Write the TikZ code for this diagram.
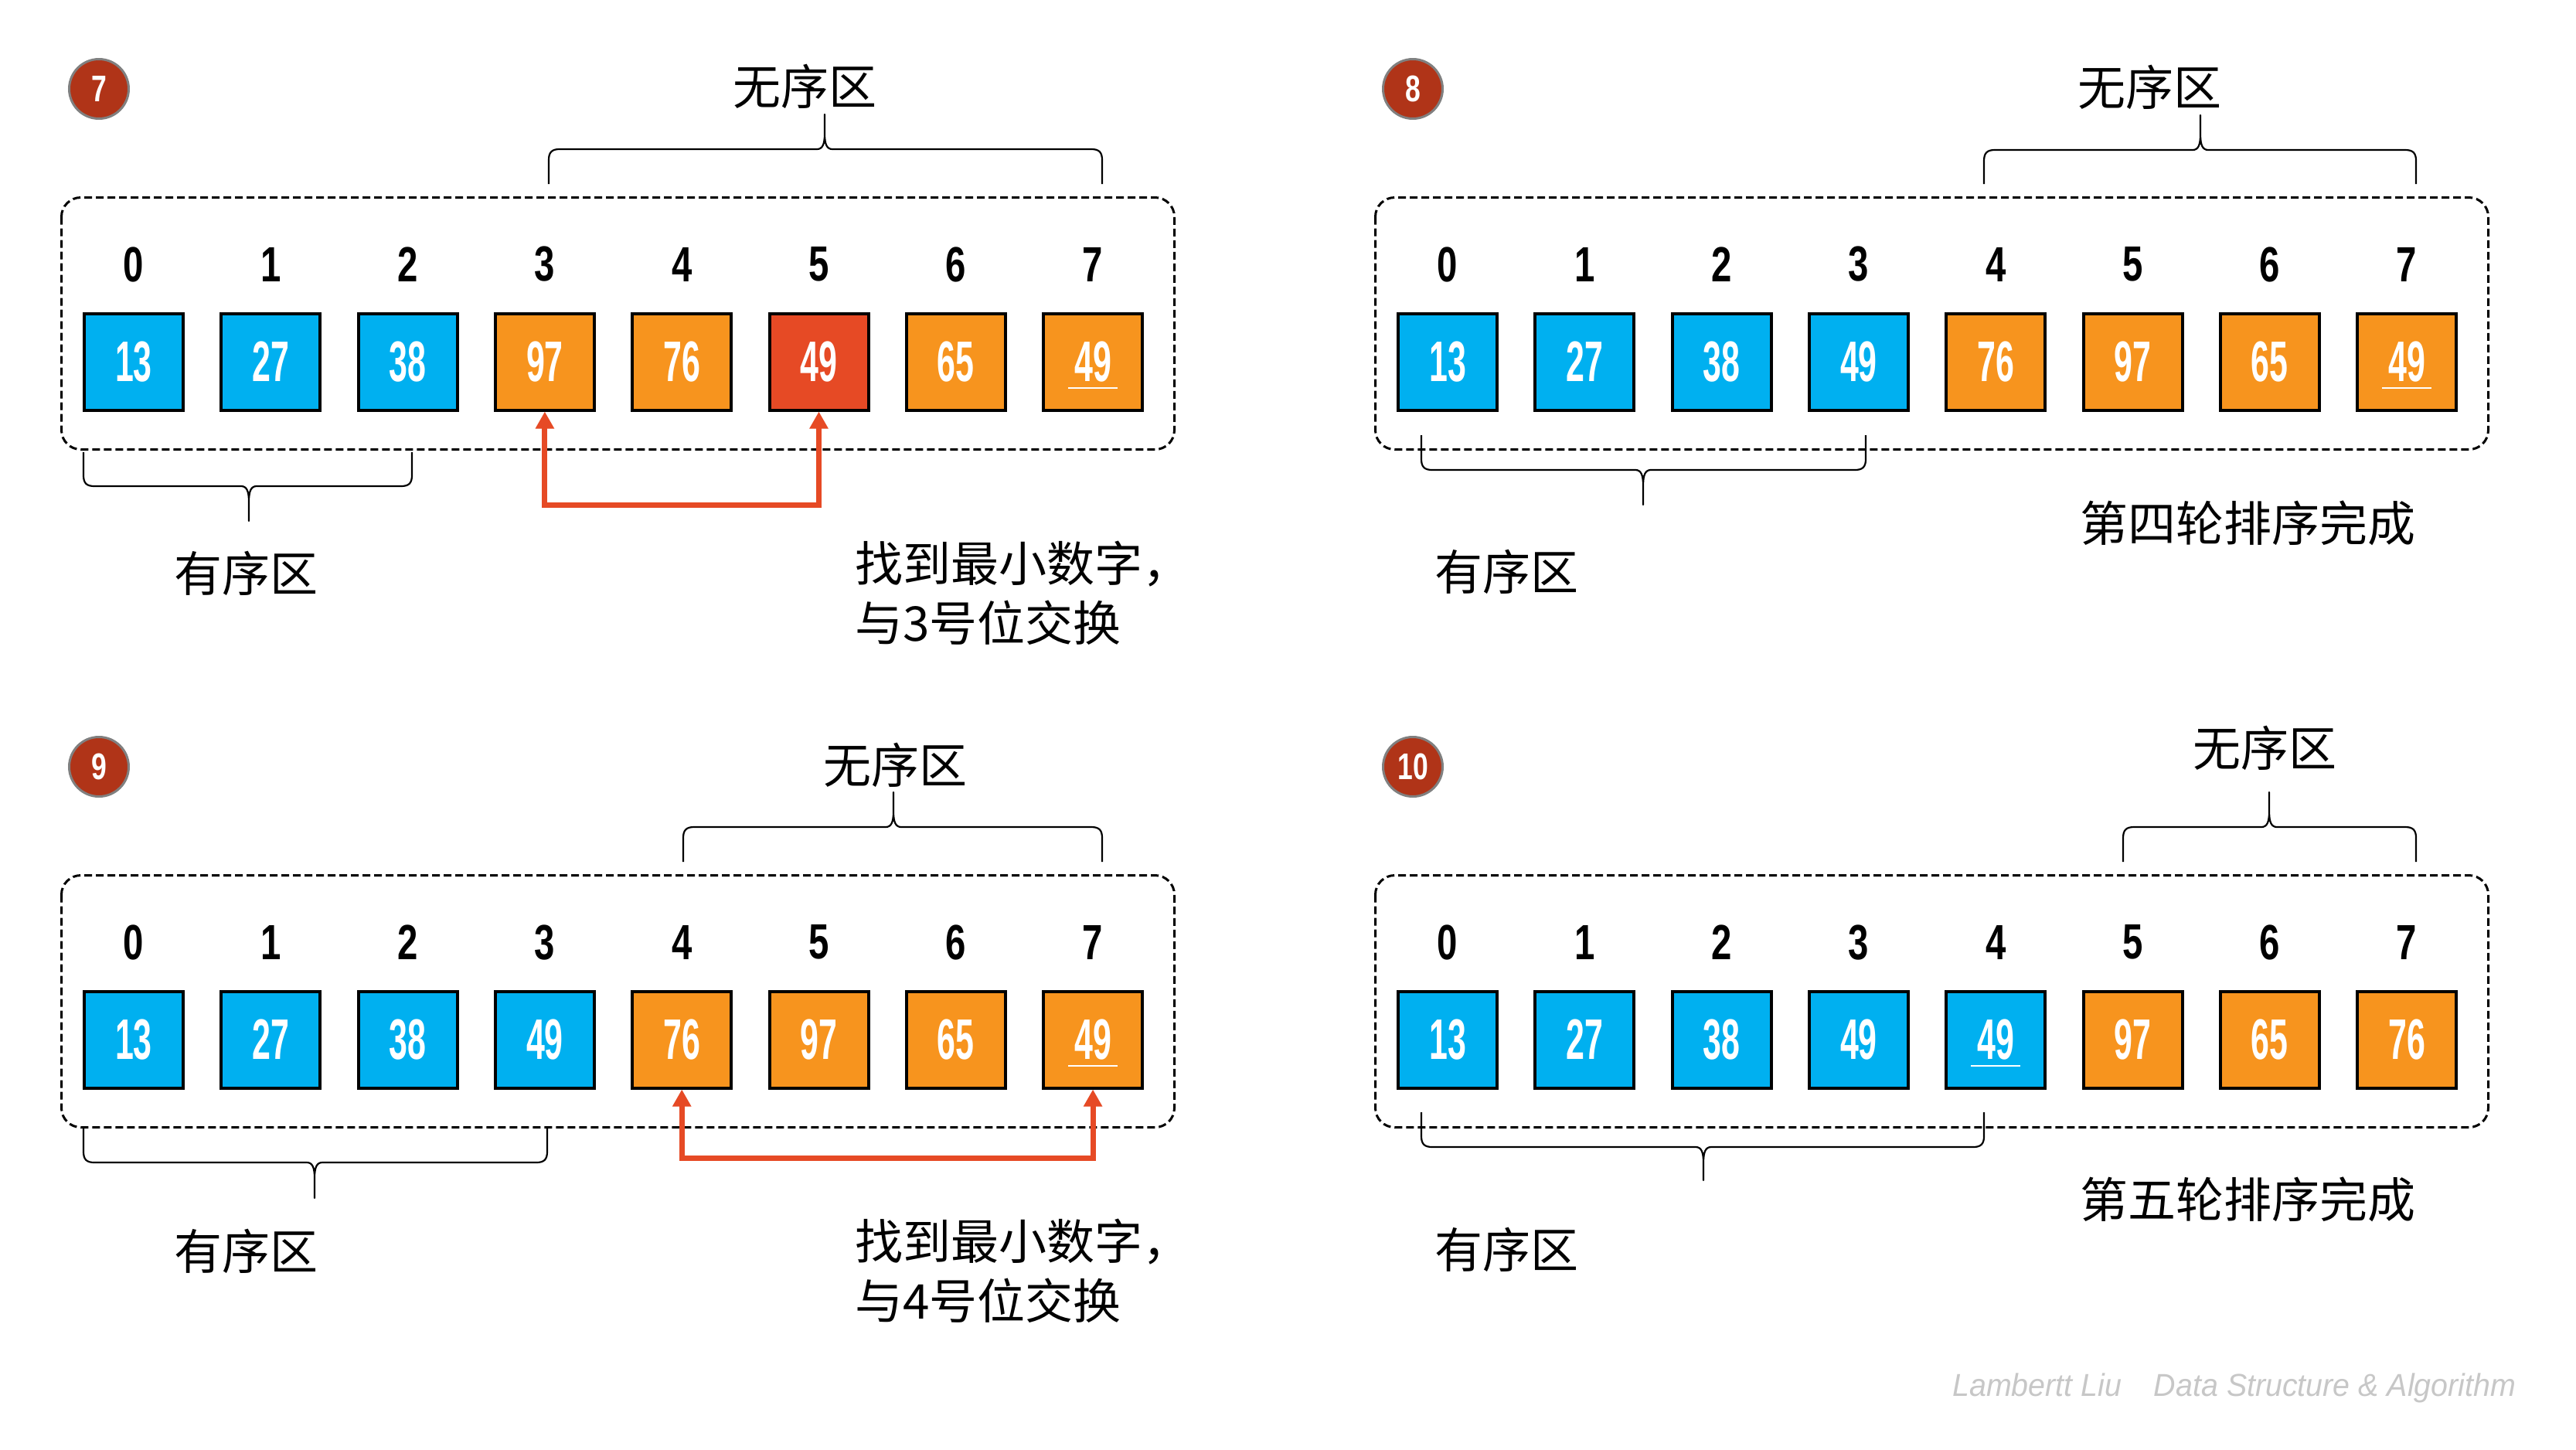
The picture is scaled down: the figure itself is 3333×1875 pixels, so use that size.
\documentclass[tikz,border=0pt]{standalone}
\usepackage{fontspec}
\usetikzlibrary{arrows.meta}
\newfontfamily\cjk{Noto Sans CJK SC}
\newfontfamily\idxfont[FakeStretch=0.74]{Liberation Sans}
\newfontfamily\boxfont[FakeStretch=0.58]{Liberation Sans}
\newfontfamily\footfont[FakeStretch=0.96]{Liberation Sans}
\definecolor{blu}{HTML}{00B0F0}
\definecolor{org}{HTML}{F7941E}
\definecolor{hot}{HTML}{E64A25}
\definecolor{badge}{HTML}{B03418}
\tikzset{
 numbox/.style={draw=black, line width=4pt, minimum width=128pt, minimum height=125pt, inner sep=0pt, text=white, font=\boxfont\bfseries\fontsize{74}{74}\selectfont},
 idx/.style={inner sep=0pt, font=\idxfont\bfseries\fontsize{64}{64}\selectfont},
 badgec/.style={circle, fill=badge, draw=gray, line width=3pt, minimum size=77pt, inner sep=0pt, text=white, font=\idxfont\bfseries\fontsize{48}{48}\selectfont},
 zone/.style={draw=black, line width=3pt, dash pattern=on 10pt off 5pt, rounded corners=25pt},
 cn/.style={inner sep=0pt, font=\cjk\fontsize{62}{62}\selectfont},
 bracestyle/.style={draw=black, line width=2.2pt, line join=round},
 swap/.style={draw=hot, line width=7pt, {Triangle[width=23pt,length=22pt]}-{Triangle[width=23pt,length=22pt]}},
 uline/.style={draw=white, line width=1.6pt},
}
% #1 xL, #2 xT, #3 xR, #4 yEnd, #5 yMid, #6 yTip, #7 sign (+1: ends below the bar)
\newcommand\zbrace[7]{%
 \draw[bracestyle] (#1,#4) -- (#1,{#5+#7*14}) .. controls (#1,{#5+#7*4}) and ({#1+4},#5) .. ({#1+14},#5)
  -- ({#2-10},#5) .. controls ({#2-3},#5) and (#2,{#5-#7*6}) .. (#2,{#5-#7*20}) -- (#2,#6)
  -- (#2,{#5-#7*20}) .. controls (#2,{#5-#7*6}) and ({#2+3},#5) .. ({#2+10},#5)
  -- ({#3-14},#5) .. controls ({#3-4},#5) and (#3,{#5+#7*4}) .. (#3,{#5+#7*14}) -- (#3,#4);}
\newcommand\boxrow[2]{%
 \foreach \v/\c [count=\i from 0] in {#2} {\node[numbox, fill=\c] (#1b\i) at ({173+177.3*\i},468) {\v};}
 \foreach \i in {0,...,7} {\node[idx] (#1i\i) at ({173+177.3*\i},342) {\i};}
 \draw[zone] (79.5,255.5) rectangle (1519.5,581.5);}
\begin{document}
\begin{tikzpicture}[x=1pt,y=-1pt]
\useasboundingbox[fill=white] (0,0) rectangle (3333,1875);
% ---------- panel 7
\begin{scope}
 \node[badgec] (p7c) at (128,115) {7};
 \boxrow{p7}{13/blu,27/blu,38/blu,97/org,76/org,49/hot,65/org,49/org}
 \draw[uline] ([shift={(-32,34)}]p7b7.center) -- ([shift={(32,34)}]p7b7.center);
 \node[cn] (p7un) at (1041,112) {无序区};
 \zbrace{710}{1067}{1426}{238}{193}{148}{1}
 \zbrace{108}{322}{533}{585}{629}{674}{-1}
 \node[cn] (p7or) at (318,742) {有序区};
 \coordinate (p7y) at (0,653);
 \draw[swap] (p7b3.south) -- (p7b3.south |- p7y) -- (p7b5.south |- p7y) -- (p7b5.south);
 \node[cn, anchor=west] (p7m1) at (1106,730) {找到最小数字，};
 \node[cn, anchor=west] (p7m2) at (1106,806) {与3号位交换};
\end{scope}
% ---------- panel 8
\begin{scope}[shift={(1700,0)}]
 \node[badgec] (p8c) at (128,115) {8};
 \boxrow{p8}{13/blu,27/blu,38/blu,49/blu,76/org,97/org,65/org,49/org}
 \draw[uline] ([shift={(-32,34)}]p8b7.center) -- ([shift={(32,34)}]p8b7.center);
 \node[cn] (p8un) at (1081,113) {无序区};
 \zbrace{867}{1147}{1426}{238}{194}{149}{1}
 \zbrace{139}{426}{714}{563}{608}{653}{-1}
 \node[cn] (p8or) at (249,740) {有序区};
 \node[cn] (p8m) at (1208,677) {第四轮排序完成};
\end{scope}
% ---------- panel 9
\begin{scope}[shift={(0,877)}]
 \node[badgec] (p9c) at (128,115) {9};
 \boxrow{p9}{13/blu,27/blu,38/blu,49/blu,76/org,97/org,65/org,49/org}
 \draw[uline] ([shift={(-32,34)}]p9b7.center) -- ([shift={(32,34)}]p9b7.center);
 \node[cn] (p9un) at (1158,113) {无序区};
 \zbrace{884}{1156}{1426}{238}{193}{148}{1}
 \zbrace{108}{407}{708}{583}{627}{673}{-1}
 \node[cn] (p9or) at (318,742) {有序区};
 \coordinate (p9y) at (0,621);
 \draw[swap] (p9b4.south) -- (p9b4.south |- p9y) -- (p9b7.south |- p9y) -- (p9b7.south);
 \node[cn, anchor=west] (p9m1) at (1106,730) {找到最小数字，};
 \node[cn, anchor=west] (p9m2) at (1106,806) {与4号位交换};
\end{scope}
% ---------- panel 10
\begin{scope}[shift={(1700,877)}]
 \node[badgec] (p10c) at (128,115) {10};
 \boxrow{p10}{13/blu,27/blu,38/blu,49/blu,49/blu,97/org,65/org,76/org}
 \draw[uline] ([shift={(-32,34)}]p10b4.center) -- ([shift={(32,34)}]p10b4.center);
 \node[cn] (p10un) at (1230,91) {无序区};
 \zbrace{1047}{1236}{1426}{238}{193}{148}{1}
 \zbrace{139}{504}{867}{562}{607}{650}{-1}
 \node[cn] (p10or) at (249,740) {有序区};
 \node[cn] (p10m) at (1208,675) {第五轮排序完成};
\end{scope}
\node[anchor=base west, inner sep=0pt, text=black!22, font=\footfont\itshape\fontsize{41}{41}\selectfont] (foot) at (2526,1806) {Lambertt Liu\hspace{42pt}Data Structure \& Algorithm};
\end{tikzpicture}
\end{document}
